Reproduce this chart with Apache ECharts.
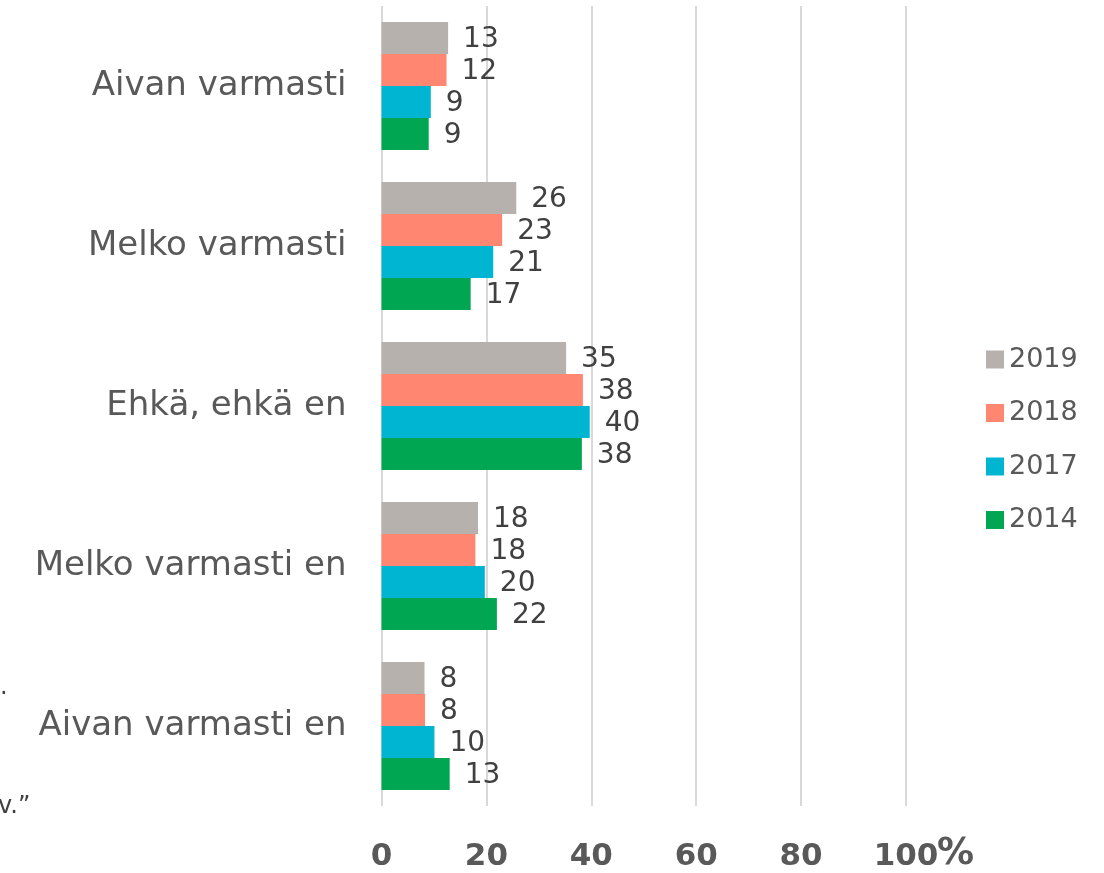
<!DOCTYPE html>
<html>
<head>
<meta charset="utf-8">
<script src="https://cdn.jsdelivr.net/npm/echarts@6/dist/echarts.min.js"></script>
<style>
  html, body { margin: 0; padding: 0; background: #fff; }
  #chart { width: 1104px; height: 873px; }
</style>
</head>
<body>
<div id="chart"></div>
<script>
// vastausluokat ylhäältä alas
var categories = ['Aivan varmasti', 'Melko varmasti', 'Ehkä, ehkä en', 'Melko varmasti en', 'Aivan varmasti en'];
var years = ['2019', '2018', '2017', '2014'];
var values2019 = [12.7, 25.7, 35.2, 18.4, 8.2];
var values2018 = [12.4, 23.0, 38.4, 17.9, 8.3];
var values2017 = [9.4, 21.3, 39.7, 19.7, 10.1];
var values2014 = [9.0, 17.0, 38.2, 22.0, 13.0];
var xTicks = [0, 20, 40, 60, 80, 100];

var colors = ['#b7b1ad', '#ff8670', '#00b5d2', '#00a651'];
var font = 'DejaVu Sans';

function makeSeries(name, data, color) {
  return {
    name: name,
    type: 'bar',
    data: data,
    barGap: '0%',
    barCategoryGap: '20%',
    itemStyle: { color: color },
    label: {
      show: true,
      position: 'right',
      distance: 15,
      offset: [0, 2],
      color: '#404040',
      fontFamily: font,
      fontSize: 28,
      formatter: function (p) { return Math.round(p.value); }
    }
  };
}

var myChart = echarts.init(document.getElementById('chart'));
var option = {
  animation: false,
  color: colors,
  grid: {
    left: 381.5,
    right: 198,
    top: 6,
    bottom: 67,
    containLabel: false
  },
  legend: {
    orient: 'vertical',
    left: 981,
    top: 341,
    itemWidth: 18,
    itemHeight: 18,
    itemGap: 26.5,
    icon: 'rect',
    data: years,
    textStyle: { color: '#595959', fontFamily: font, fontSize: 27 }
  },
  xAxis: {
    type: 'value',
    min: xTicks[0],
    max: xTicks[xTicks.length - 1],
    interval: 20,
    axisLine: { show: false },
    axisTick: { show: false },
    splitLine: { lineStyle: { color: '#d9d9d9', width: 2 } },
    axisLabel: {
      margin: 35,
      color: '#595959',
      fontFamily: font,
      fontWeight: 'bold',
      fontSize: 31
    }
  },
  yAxis: {
    type: 'category',
    inverse: true,
    data: categories,
    axisLine: { show: false },
    axisTick: { show: false },
    axisLabel: {
      margin: 35,
      color: '#595959',
      fontFamily: font,
      fontSize: 34
    }
  },
  series: [
    makeSeries(years[0], values2019, colors[0]),
    makeSeries(years[1], values2018, colors[1]),
    makeSeries(years[2], values2017, colors[2]),
    makeSeries(years[3], values2014, colors[3])
  ]
};
myChart.setOption(option);

// prosenttimerkki viimeisen tikin perään + leikkautuneet tekstinpalat vasemmalla
var px100 = myChart.convertToPixel({ xAxisIndex: 0 }, xTicks[xTicks.length - 1]);
myChart.setOption({
  graphic: [
    {
      type: 'text',
      left: px100 + 31,
      top: 836,
      style: { text: '%', fill: '#595959', font: 'bold 37px "DejaVu Sans"' }
    },
    {
      type: 'text',
      left: 0,
      top: 676,
      style: { text: '.', fill: '#404040', font: '24px "DejaVu Sans"' }
    },
    {
      type: 'text',
      left: -2,
      top: 795,
      style: { text: 'v.\u201d', fill: '#404040', font: '24px "DejaVu Sans"' }
    }
  ]
});
</script>
</body>
</html>
